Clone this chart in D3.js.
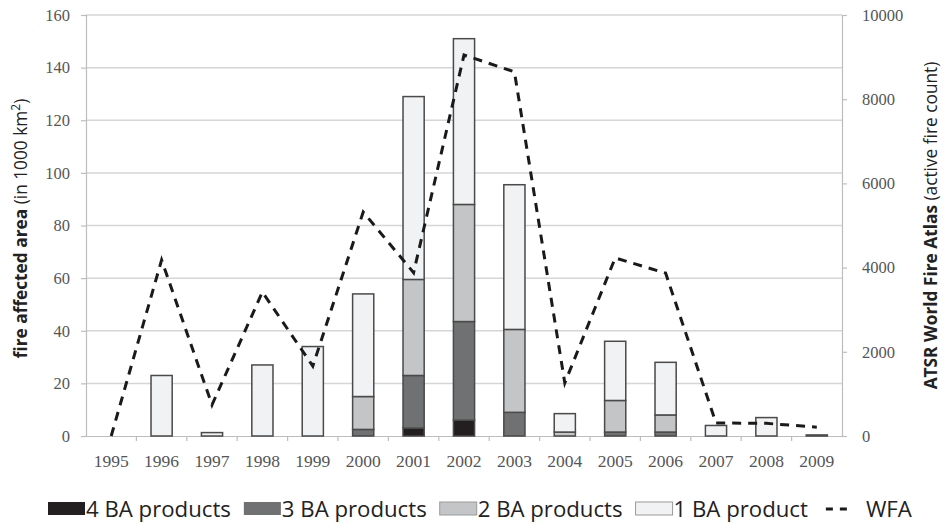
<!DOCTYPE html>
<meta charset="utf-8">
<style>
body { margin: 0; background: #fff; }
svg { display: block; }
.tick text { font-family: "Liberation Serif", "DejaVu Serif", serif; font-size: 16.5px; fill: #555; }
.xax .tick text { font-size: 17.5px; }
.title { font-family: "Open Sans", sans-serif; font-size: 17.3px; fill: #222; }
.legend text { font-family: "Open Sans", sans-serif; font-size: 22.2px; fill: #222; }
</style>
<body>
<script src="https://cdn.jsdelivr.net/npm/d3@7"></script>
<script>

var years = ["1995","1996","1997","1998","1999","2000","2001","2002","2003","2004","2005","2006","2007","2008","2009"];

// burned area (1000 km2) by number of agreeing BA products
var ba4 = [0, 0, 0, 0, 0, 0, 3, 6, 0, 0, 0, 0, 0, 0, 0];
var ba3 = [0, 0, 0, 0, 0, 2.5, 20, 37.5, 9, 0, 1.5, 1.5, 0, 0, 0];
var ba2 = [0, 0, 0, 0, 0, 12.5, 36.5, 44.5, 31.5, 1.5, 12, 6.5, 0, 0, 0];
var ba1 = [0, 23, 1.3, 27, 34, 39, 69.5, 63, 55, 7, 22.5, 20, 4, 7, 0.4];

// active fire count
var wfa = [0, 4180, 740, 3420, 1660, 5320, 3880, 9050, 8650, 1260, 4230, 3870, 310, 300, 210];

var seriesNames = ["4 BA products", "3 BA products", "2 BA products", "1 BA product"];
var seriesColors = ["#231f20", "#707173", "#c4c5c7", "#f1f2f4"];

var leftTicks = [0, 20, 40, 60, 80, 100, 120, 140, 160];
var rightTicks = [0, 2000, 4000, 6000, 8000, 10000];

var width = 946, height = 525;
var margin = {top: 15, right: 104, bottom: 89, left: 86};
var x0 = margin.left, x1 = width - margin.right, yTop = margin.top, yBot = height - margin.bottom;

var svg = d3.select("body").append("svg")
    .attr("width", width)
    .attr("height", height);

var x = d3.scaleBand().domain(years).range([x0, x1]);
var y = d3.scaleLinear().domain([0, 160]).range([yBot, yTop]);
var y2 = d3.scaleLinear().domain([0, 10000]).range([yBot, yTop]);

// gridlines
svg.append("g")
  .selectAll("line")
  .data(leftTicks.slice(1))
  .enter().append("line")
    .attr("x1", x0).attr("x2", x1)
    .attr("y1", function(d) { return y(d); })
    .attr("y2", function(d) { return y(d); })
    .attr("stroke", "#d6d6d6")
    .attr("stroke-width", 1.5);

// axes
var axL = svg.append("g")
    .attr("transform", "translate(" + x0 + ",0)")
    .call(d3.axisLeft(y).tickValues(leftTicks).tickSize(5).tickPadding(11));
var axR = svg.append("g")
    .attr("transform", "translate(" + x1 + ",0)")
    .call(d3.axisRight(y2).tickValues(rightTicks).tickSize(5).tickPadding(15).tickFormat(d3.format("d")));
var axB = svg.append("g")
    .attr("class", "xax")
    .attr("transform", "translate(0," + yBot + ")")
    .call(d3.axisBottom(x).tickSize(0).tickPadding(19));

[axL, axR, axB].forEach(function(a) {
  a.select(".domain").attr("stroke", "#bdbdbd").attr("stroke-width", 1.2);
  a.selectAll(".tick line").attr("stroke", "#bdbdbd").attr("stroke-width", 1.2);
});

// category separators on x axis
svg.append("g")
  .selectAll("line")
  .data(years.slice(1))
  .enter().append("line")
    .attr("x1", function(d) { return x(d); })
    .attr("x2", function(d) { return x(d); })
    .attr("y1", yBot).attr("y2", yBot + 5)
    .attr("stroke", "#bdbdbd").attr("stroke-width", 1.2);

// stacked bars
var rows = years.map(function(yr, i) {
  return {year: yr, s0: ba4[i], s1: ba3[i], s2: ba2[i], s3: ba1[i]};
});
var stack = d3.stack().keys(["s0", "s1", "s2", "s3"]);
var layers = stack(rows);
var bw = x.bandwidth() * 0.42;

svg.append("g")
  .selectAll("g")
  .data(layers)
  .enter().append("g")
    .attr("fill", function(d, i) { return seriesColors[i]; })
  .selectAll("rect")
  .data(function(d) { return d.filter(function(p) { return p[1] - p[0] > 0; }); })
  .enter().append("rect")
    .attr("x", function(d) { return x(d.data.year) + (x.bandwidth() - bw) / 2; })
    .attr("width", bw)
    .attr("y", function(d) { return y(d[1]); })
    .attr("height", function(d) { return y(d[0]) - y(d[1]); })
    .attr("stroke", "#4a4a4a")
    .attr("stroke-width", 1.5);

// WFA line
var line = d3.line()
    .x(function(d, i) { return x(years[i]) + x.bandwidth() / 2; })
    .y(function(d) { return y2(d); });

svg.append("path")
    .datum(wfa)
    .attr("d", line)
    .attr("fill", "none")
    .attr("stroke", "#1a1a1a")
    .attr("stroke-width", 3)
    .attr("stroke-dasharray", "9,7");

// axis titles
var tl = svg.append("text")
    .attr("class", "title")
    .attr("transform", "translate(27," + ((yTop + yBot) / 2 + 3) + ")rotate(-90)")
    .attr("text-anchor", "middle");
tl.append("tspan").attr("font-weight", "bold").text("fire affected area ");
tl.append("tspan").text("(in 1000 km");
tl.append("tspan").attr("font-size", "12px").attr("dy", "-7").text("2");
tl.append("tspan").attr("dy", "7").text(")");

var tr = svg.append("text")
    .attr("class", "title")
    .attr("font-size", "20px")
    .attr("transform", "translate(937," + ((yTop + yBot) / 2) + ")rotate(-90)")
    .attr("text-anchor", "middle");
tr.append("tspan").attr("font-weight", "bold").text("ATSR World Fire Atlas ");
tr.append("tspan").text("(active fire count)");

// legend
var legend = svg.append("g").attr("class", "legend");
var lx = 48, ly = 509;
seriesNames.forEach(function(name, i) {
  legend.append("rect")
      .attr("x", lx).attr("y", ly - 7)
      .attr("width", 37).attr("height", 13)
      .attr("fill", seriesColors[i])
      .attr("stroke", i < 2 ? "none" : "#9a9a9a")
      .attr("stroke-width", 1);
  var t = legend.append("text")
      .attr("x", lx + 38).attr("y", ly + 8)
      .text(name);
  lx += 38 + t.node().getComputedTextLength() + 13;
});
legend.append("line")
    .attr("x1", lx + 5).attr("x2", lx + 27)
    .attr("y1", ly).attr("y2", ly)
    .attr("stroke", "#1a1a1a").attr("stroke-width", 3)
    .attr("stroke-dasharray", "7,7");
legend.append("text")
    .attr("x", lx + 45).attr("y", ly + 8)
    .text("WFA");

</script>
</body>
